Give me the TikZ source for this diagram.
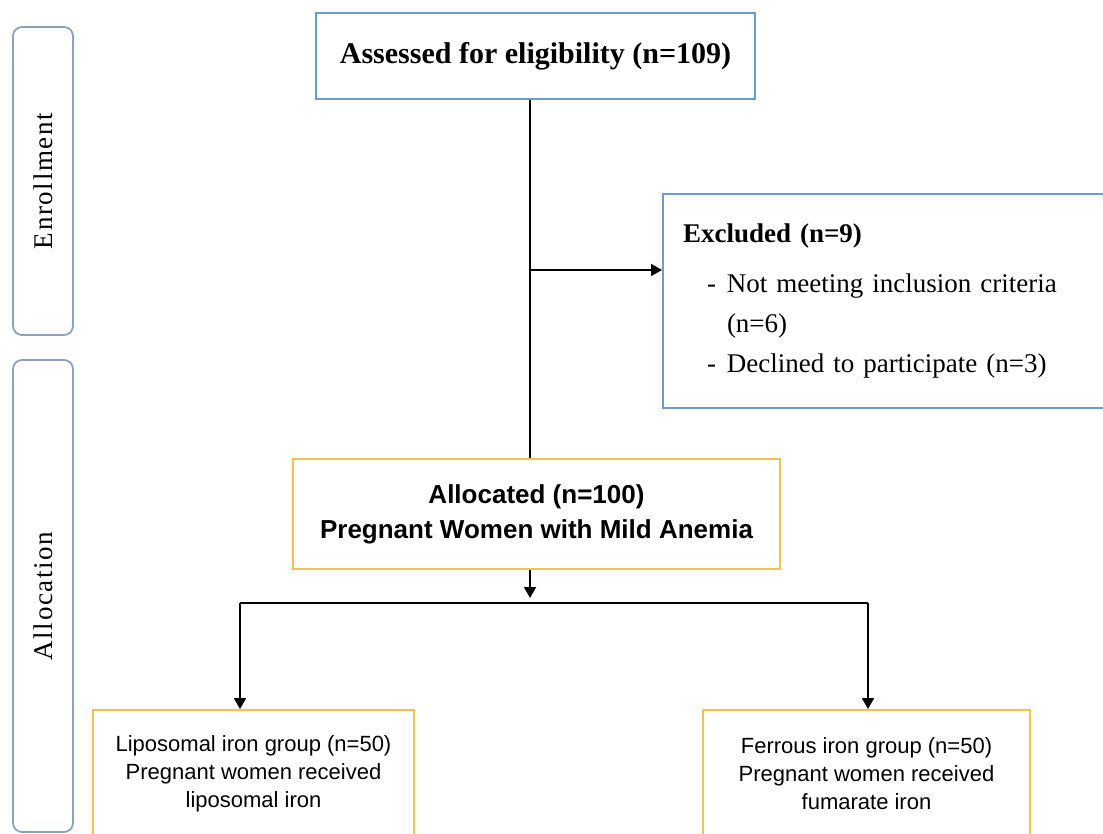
\documentclass[tikz,border=0pt]{standalone}
\usepackage{fontspec}
\setmainfont{Liberation Serif}
\setsansfont{Liberation Sans}
\newfontfamily\phasefont[LetterSpace=6]{Liberation Serif}
\usetikzlibrary{positioning,arrows.meta}
\definecolor{frameblue}{HTML}{6F9BCB}
\definecolor{framegold}{HTML}{F2C14E}
\definecolor{sidegrey}{HTML}{8AA2BF}

\begin{document}
\begin{tikzpicture}[
  x=1pt, y=-1pt,
  stagebox/.style={draw=frameblue, line width=1.8pt, fill=white, inner sep=0pt},
  armbox/.style={draw=framegold, line width=1.8pt, fill=white, inner sep=0pt,
                 align=center},
  phase/.style={draw=sidegrey, line width=1.8pt, rounded corners=9pt, rotate=90,
                inner sep=0pt, font=\phasefont\fontsize{27}{32}\selectfont},
  flow/.style={line width=1.8pt},
  flowarrow/.style={flow, -{Triangle[length=11pt,width=12pt]}},
]
\useasboundingbox (0,0) rectangle (1103,834);

\node[phase, minimum width=308pt, minimum height=60pt] (enrol) at (43,181) {Enrollment};
\node[phase, minimum width=472pt, minimum height=60pt] (alloc-phase) at (43,596) {Allocation};

\node[stagebox, minimum width=439pt, minimum height=86pt,
      font=\bfseries\fontsize{30}{36}\selectfont] (assess) at (535.5,56)
  {Assessed for eligibility (n=109)};

\node[stagebox, text width=412pt, inner xsep=20pt, minimum height=214pt, align=left,
      font=\fontsize{27}{40}\selectfont] (excl) at (889,301)
  {\textbf{Excluded (n=9)}\\[10pt]
   \hspace*{24pt}-\hspace{11pt}Not meeting inclusion criteria\\
   \hspace*{44pt}(n=6)\\
   \hspace*{24pt}-\hspace{11pt}Declined to participate (n=3)};

\node[armbox, minimum width=487pt, minimum height=110pt,
      font=\sffamily\bfseries\fontsize{26}{35}\selectfont] (alloc) at (536.5,514)
  {Allocated (n=100)\\Pregnant Women with Mild Anemia};

\node[armbox, minimum width=321pt, minimum height=128pt,
      font=\sffamily\fontsize{22}{28}\selectfont] (lipo) at (253.5,774)
  {Liposomal iron group (n=50)\\Pregnant women received\\liposomal iron};
\node[armbox, minimum width=327pt, minimum height=128pt,
      font=\sffamily\fontsize{22}{28}\selectfont] (ferr) at (866.5,774)
  {Ferrous iron group (n=50)\\Pregnant women received\\fumarate iron};

\coordinate (split) at (530,270);
\coordinate (fork) at (530,603);
\coordinate (fork-l) at (240,603);
\coordinate (fork-r) at (868,603);

\draw[flow] (assess.south -| split) -- (alloc.north -| split);
\draw[flowarrow] (split) -- (excl.west |- split);
\draw[flowarrow] (alloc.south -| fork) -- ([yshift=5pt]fork);
\draw[flow] (fork-l) -- (fork-r);
\draw[flowarrow] (fork-l) -- (lipo.north -| fork-l);
\draw[flowarrow] (fork-r) -- (ferr.north -| fork-r);

\end{tikzpicture}
\end{document}
